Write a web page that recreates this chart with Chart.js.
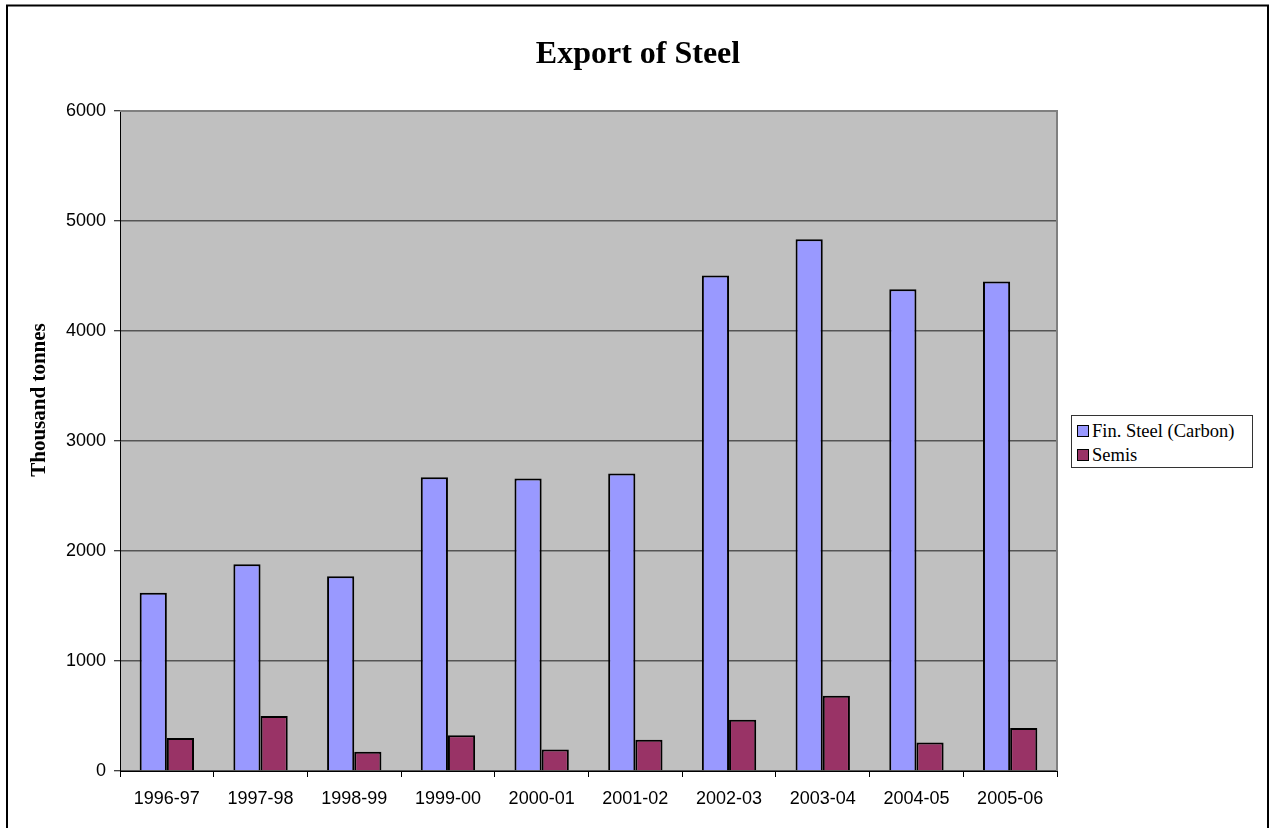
<!DOCTYPE html>
<html>
<head>
<meta charset="utf-8">
<script src="https://cdn.jsdelivr.net/npm/chart.js@4"></script>
<style>
  html, body { margin: 0; padding: 0; background: #ffffff; }
  #wrap { position: relative; width: 1271px; height: 828px; overflow: hidden; }
  #legend {
    position: absolute; left: 1071px; top: 415px; width: 182px; height: 53px;
    border: 1px solid #333; background: #fff; box-sizing: border-box;
    font-family: 'Liberation Serif', 'Times New Roman', serif; font-size: 18.5px; color: #000;
    padding-top: 3px;
  }
  #legend .item { display: flex; align-items: center; height: 24px; padding-left: 5px; }
  #legend .sw { width: 10px; height: 10px; border: 1.5px solid #000; margin-right: 3px; }
</style>
</head>
<body>
<div id="wrap">
  <canvas id="chart" width="1271" height="828"></canvas>
  <div id="legend"></div>
</div>
<script>
// Export of Steel, thousand tonnes
const categories = ['1996-97', '1997-98', '1998-99', '1999-00', '2000-01', '2001-02', '2002-03', '2003-04', '2004-05', '2005-06'];
const finSteel = [1620, 1880, 1770, 2670, 2660, 2705, 4505, 4835, 4380, 4450];
const semis = [300, 500, 175, 325, 195, 285, 465, 685, 260, 390];
const yTicks = [0, 1000, 2000, 3000, 4000, 5000, 6000];

const seriesNames = ['Fin. Steel (Carbon)', 'Semis'];
const seriesColors = ['#9999FF', '#993366'];
const chartTitle = 'Export of Steel';
const yTitle = 'Thousand tonnes';

// plot background, outer frame, title and the rotated axis title
const frame = {
    id: 'frame',
    beforeDraw(chart) {
        const { ctx, chartArea: a } = chart;
        ctx.save();
        ctx.fillStyle = '#C0C0C0';
        ctx.fillRect(a.left, a.top, a.right - a.left, a.bottom - a.top);
        ctx.restore();
    },
    afterDraw(chart) {
        const { ctx, chartArea: a } = chart;
        ctx.save();
        // gray plot border top/right
        ctx.strokeStyle = '#808080';
        ctx.lineWidth = 2;
        ctx.beginPath();
        ctx.moveTo(a.left, a.top);
        ctx.lineTo(a.right, a.top);
        ctx.lineTo(a.right, a.bottom);
        ctx.stroke();
        // outer chart frame
        ctx.strokeStyle = '#000';
        ctx.lineWidth = 2;
        ctx.strokeRect(7, 5.5, 1261, 840);
        // chart title
        ctx.fillStyle = '#000';
        ctx.textAlign = 'center';
        ctx.textBaseline = 'middle';
        ctx.font = 'bold 32px "Liberation Serif", "Times New Roman", serif';
        ctx.fillText(chartTitle, 638, 55);
        // y axis title
        ctx.translate(40, 400);
        ctx.rotate(-Math.PI / 2);
        ctx.font = 'bold 21px "Liberation Serif", "Times New Roman", serif';
        ctx.fillText(yTitle, 0, 0);
        ctx.restore();
    }
};

const ctx = document.getElementById('chart').getContext('2d');
const chart = new Chart(ctx, {
    type: 'bar',
    data: {
        labels: categories,
        datasets: [
            {
                label: seriesNames[0],
                data: finSteel,
                backgroundColor: seriesColors[0],
                borderColor: '#000',
                borderWidth: 2,
                categoryPercentage: 0.58,
                barPercentage: 1
            },
            {
                label: seriesNames[1],
                data: semis,
                backgroundColor: seriesColors[1],
                borderColor: '#000',
                borderWidth: 2,
                categoryPercentage: 0.58,
                barPercentage: 1
            }
        ]
    },
    options: {
        responsive: false,
        animation: false,
        devicePixelRatio: 1,
        layout: { padding: { left: 0, right: 214, top: 111, bottom: 0 } },
        plugins: {
            legend: { display: false },
            tooltip: { enabled: false },
            title: { display: false }
        },
        scales: {
            x: {
                grid: {
                    offset: true,
                    drawOnChartArea: false,
                    drawTicks: true,
                    tickLength: 6,
                    color: '#000',
                    lineWidth: 1
                },
                border: { color: '#000', width: 1 },
                ticks: {
                    color: '#000',
                    padding: 11,
                    maxRotation: 0,
                    font: { family: '"Liberation Sans", Arial, sans-serif', size: 18 }
                },
                afterFit(scale) { scale.height = 57; }
            },
            y: {
                min: 0,
                max: 6000,
                afterBuildTicks(scale) { scale.ticks = yTicks.map(v => ({ value: v })); },
                grid: {
                    color: '#555',
                    lineWidth: 1.5,
                    tickColor: '#000',
                    tickWidth: 1,
                    tickLength: 6
                },
                border: { color: '#000', width: 1 },
                ticks: {
                    color: '#000',
                    padding: 8,
                    font: { family: '"Liberation Sans", Arial, sans-serif', size: 18 },
                    callback: (value) => String(value)
                },
                afterFit(scale) { scale.width = 120; }
            }
        }
    },
    plugins: [frame]
});

// legend from the same series names and colours
const legend = document.getElementById('legend');
seriesNames.forEach((name, i) => {
    const item = document.createElement('div');
    item.className = 'item';
    const sw = document.createElement('span');
    sw.className = 'sw';
    sw.style.background = seriesColors[i];
    item.appendChild(sw);
    item.appendChild(document.createTextNode(name));
    legend.appendChild(item);
});
</script>
</body>
</html>
